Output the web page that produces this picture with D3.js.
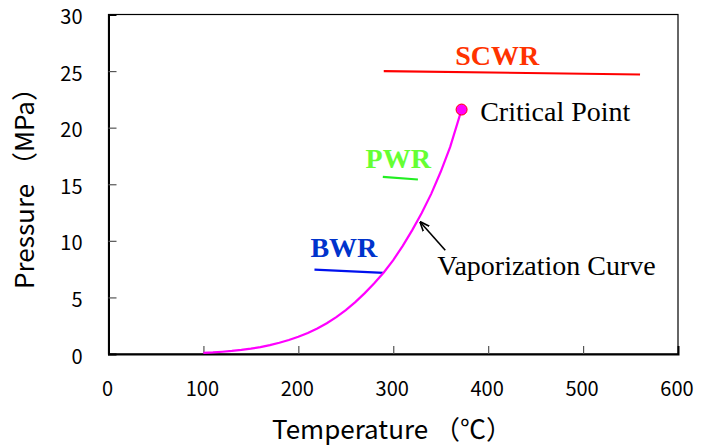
<!DOCTYPE html>
<html>
<head>
<meta charset="utf-8">
<script src="https://cdn.jsdelivr.net/npm/d3@7"></script>
<style>
  body { margin: 0; background: #fff; }
  .tick-label { font-family: "Noto Sans CJK JP", "Noto Sans", sans-serif; font-size: 20px; fill: #000; }
  .axis-title { font-family: "Noto Sans CJK JP", "Noto Sans", sans-serif; font-size: 26px; fill: #000; }
  .serif { font-family: "Liberation Serif", "Times New Roman", serif; }
</style>
</head>
<body>
<svg id="chart"></svg>
<script>
// vaporization curve (temperature °C, pressure MPa)
const curveTemp = [100, 110, 120, 130, 140, 150, 160, 170, 180, 190, 200, 210, 220, 230, 240,
                   250, 260, 270, 280, 290, 300, 310, 320, 330, 340, 350, 360, 372];
const curvePress = [0.10, 0.14, 0.20, 0.27, 0.36, 0.47, 0.61, 0.78, 0.99, 1.24, 1.52, 1.86, 2.26, 2.72, 3.26,
                    3.88, 4.58, 5.38, 6.25, 7.20, 8.30, 9.55, 10.95, 12.45, 14.15, 16.1, 18.3, 21.6];

// reactor operating lines
const reactorNames = ['SCWR', 'PWR', 'BWR'];
const reactorTemp = [[290, 560], [289, 326], [217, 290]];
const reactorPress = [[25.0, 24.7], [15.65, 15.42], [7.46, 7.16]];

const criticalPoint = [372, 21.6];

const xTicks = [0, 100, 200, 300, 400, 500, 600];
const yTicks = [0, 5, 10, 15, 20, 25, 30];

window.addEventListener('DOMContentLoaded', e => {
    let width = 710;
    let height = 446;
    let margin = {left: 108.5, top: 14.5, right: 32, bottom: 92};

    let svg = d3.select('#chart')
        .attr('width', width)
        .attr('height', height);

    let xScale = d3.scaleLinear()
        .domain([0, 600])
        .range([margin.left, width - margin.right]);
    let yScale = d3.scaleLinear()
        .domain([0, 30])
        .range([height - margin.bottom, margin.top]);

    //plot frame
    svg.append('rect')
        .attr('x', xScale(0))
        .attr('y', yScale(30))
        .attr('width', xScale(600) - xScale(0))
        .attr('height', yScale(0) - yScale(30))
        .attr('fill', 'none')
        .attr('stroke', '#000')
        .attr('stroke-width', 1.2);

    //axes with inward ticks
    let xAxis = d3.axisBottom(xScale).tickValues(xTicks).tickSize(-8).tickFormat('');
    let yAxis = d3.axisLeft(yScale).tickValues(yTicks).tickSize(-8).tickFormat('');

    let gx = svg.append('g')
        .attr('transform', 'translate(0,' + yScale(0) + ')')
        .call(xAxis);
    let gy = svg.append('g')
        .attr('transform', 'translate(' + xScale(0) + ',0)')
        .call(yAxis);
    [gx, gy].forEach(g => {
        g.select('.domain').attr('stroke', '#000').attr('stroke-width', 2);
        g.selectAll('.tick line').attr('stroke', '#555').attr('stroke-width', 1.2);
        g.selectAll('.tick').filter(d => d === 0 || d === 600 || d === 30).remove();
    });

    //tick labels
    svg.selectAll('.xlabel')
        .data(xTicks)
        .enter()
        .append('text')
        .attr('class', 'tick-label')
        .attr('x', d => xScale(d) - 1)
        .attr('y', yScale(0) + 42)
        .attr('text-anchor', 'middle')
        .text(d => d);

    svg.selectAll('.ylabel')
        .data(yTicks)
        .enter()
        .append('text')
        .attr('class', 'tick-label')
        .attr('x', xScale(0) - 26)
        .attr('y', d => yScale(d) + 9.5)
        .attr('text-anchor', 'end')
        .text(d => d);

    //axis titles
    svg.append('text')
        .attr('class', 'axis-title')
        .attr('x', 392)
        .attr('y', 439)
        .attr('text-anchor', 'middle')
        .text('Temperature （℃）');

    svg.append('text')
        .attr('class', 'axis-title')
        .attr('transform', 'translate(34,182) rotate(-90)')
        .attr('text-anchor', 'middle')
        .text('Pressure （MPa）');

    //reactor lines
    let lineColors = ['#ff0000', '#22ee22', '#0011ee'];
    let textColors = ['#ff3300', '#66ff33', '#0033cc'];
    let labelPos = [[409.6, 25.53], [305.3, 16.4], [248, 8.53]];

    reactorNames.forEach((name, i) => {
        svg.append('line')
            .attr('x1', xScale(reactorTemp[i][0]))
            .attr('y1', yScale(reactorPress[i][0]))
            .attr('x2', xScale(reactorTemp[i][1]))
            .attr('y2', yScale(reactorPress[i][1]))
            .attr('stroke', lineColors[i])
            .attr('stroke-width', 2.2);
        svg.append('text')
            .attr('class', 'serif')
            .attr('x', xScale(labelPos[i][0]))
            .attr('y', yScale(labelPos[i][1]))
            .attr('text-anchor', 'middle')
            .attr('font-size', 28)
            .attr('font-weight', 'bold')
            .attr('fill', textColors[i])
            .text(name);
    });

    //vaporization curve
    let points = curveTemp.map((t, i) => [t, curvePress[i]]);
    let line = d3.line()
        .x(d => xScale(d[0]))
        .y(d => yScale(d[1]));
    svg.append('path')
        .datum(points)
        .attr('d', line)
        .attr('fill', 'none')
        .attr('stroke', '#ff00ff')
        .attr('stroke-width', 2.2);

    //critical point
    svg.append('circle')
        .attr('cx', xScale(criticalPoint[0]))
        .attr('cy', yScale(criticalPoint[1]))
        .attr('r', 5.5)
        .attr('fill', '#ff00ff')
        .attr('stroke', '#ff0000')
        .attr('stroke-width', 1);

    svg.append('text')
        .attr('class', 'serif')
        .attr('x', xScale(391.6))
        .attr('y', yScale(20.6))
        .attr('font-size', 28)
        .attr('fill', '#000')
        .text('Critical Point');

    //arrow to curve
    svg.append('defs').append('marker')
        .attr('id', 'arrow')
        .attr('viewBox', '0 0 10 10')
        .attr('refX', 9)
        .attr('refY', 5)
        .attr('markerWidth', 10)
        .attr('markerHeight', 10)
        .attr('markerUnits', 'userSpaceOnUse')
        .attr('orient', 'auto')
        .append('path')
        .attr('d', 'M0,1 L10,5 L0,9')
        .attr('fill', 'none')
        .attr('stroke', '#000')
        .attr('stroke-width', 1.6);

    svg.append('line')
        .attr('x1', xScale(354.8))
        .attr('y1', yScale(9.17))
        .attr('x2', xScale(328.6))
        .attr('y2', yScale(11.65))
        .attr('stroke', '#000')
        .attr('stroke-width', 1.6)
        .attr('marker-end', 'url(#arrow)');

    svg.append('text')
        .attr('class', 'serif')
        .attr('x', xScale(346.4))
        .attr('y', yScale(6.96))
        .attr('font-size', 28)
        .attr('fill', '#000')
        .text('Vaporization Curve');
});
</script>
</body>
</html>
